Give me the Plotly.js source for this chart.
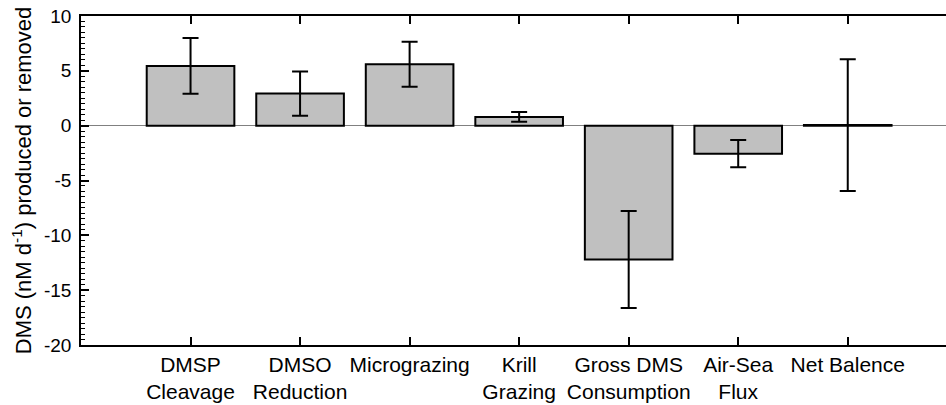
<!DOCTYPE html>
<html>
<head>
<meta charset="utf-8">
<script src="https://cdn.plot.ly/plotly-3.0.1.min.js"></script>
<style>html,body{margin:0;padding:0;overflow:hidden;background:#fff}#wrap{width:946px;height:405px;overflow:hidden}</style>
</head>
<body>
<div id="wrap"><div id="chart" style="width:954px;height:405px"></div></div>
<script>
const categories = ["DMSP<br>Cleavage", "DMSO<br>Reduction", "Micrograzing", "Krill<br>Grazing", "Gross DMS<br>Consumption", "Air-Sea<br>Flux", "Net Balence"];
const values = [5.45, 2.93, 5.6, 0.8, -12.2, -2.55, 0.05];
const errors = [2.55, 2.02, 2.05, 0.45, 4.43, 1.25, 6.0];
const yTickVals = [-20, -15, -10, -5, 0, 5, 10];
const yTickText = ["-20", "-15", "-10", "-5", "0", "5", "10"];

const font = "Liberation Sans, Arial, Helvetica, sans-serif";

const trace = {
  type: "bar",
  x: categories,
  y: values,
  width: 0.8,
  marker: {color: "#c0c0c0", line: {color: "#000", width: 2}},
  error_y: {type: "data", array: errors, visible: true, color: "#000", thickness: 2, width: 8},
  hoverinfo: "none"
};

const layout = {
  width: 954,
  height: 405,
  margin: {l: 81, r: 0, t: 16, b: 60},
  paper_bgcolor: "#ffffff",
  plot_bgcolor: "#ffffff",
  showlegend: false,
  font: {family: font, color: "#000", size: 21},
  xaxis: {
    type: "category",
    range: [-1, 6.97],
    showline: true, linecolor: "#000", linewidth: 1.5,
    mirror: "ticks",
    ticks: "inside", ticklen: 8, tickwidth: 1.5, tickcolor: "#000",
    showgrid: false, zeroline: false,
    tickfont: {family: font, size: 21, color: "#000"}
  },
  yaxis: {
    range: [-20, 10],
    tickvals: yTickVals, ticktext: yTickText,
    showline: true, linecolor: "#000", linewidth: 1.5,
    mirror: false,
    ticks: "inside", ticklen: 8, tickwidth: 1.5, tickcolor: "#000",
    minor: {dtick: 0.5, ticks: "inside", ticklen: 4, tickwidth: 1, tickcolor: "#000", showgrid: false},
    showgrid: false,
    zeroline: true, zerolinecolor: "#808080", zerolinewidth: 1,
    ticklabelstandoff: 4,
    tickfont: {family: font, size: 19, color: "#000"},
    title: {text: "DMS (nM d<sup>-1</sup>) produced or removed", font: {family: font, size: 22, color: "#000"}, standoff: 6}
  }
};

Plotly.newPlot("chart", [trace], layout, {displayModeBar: false});
</script>
</body>
</html>
